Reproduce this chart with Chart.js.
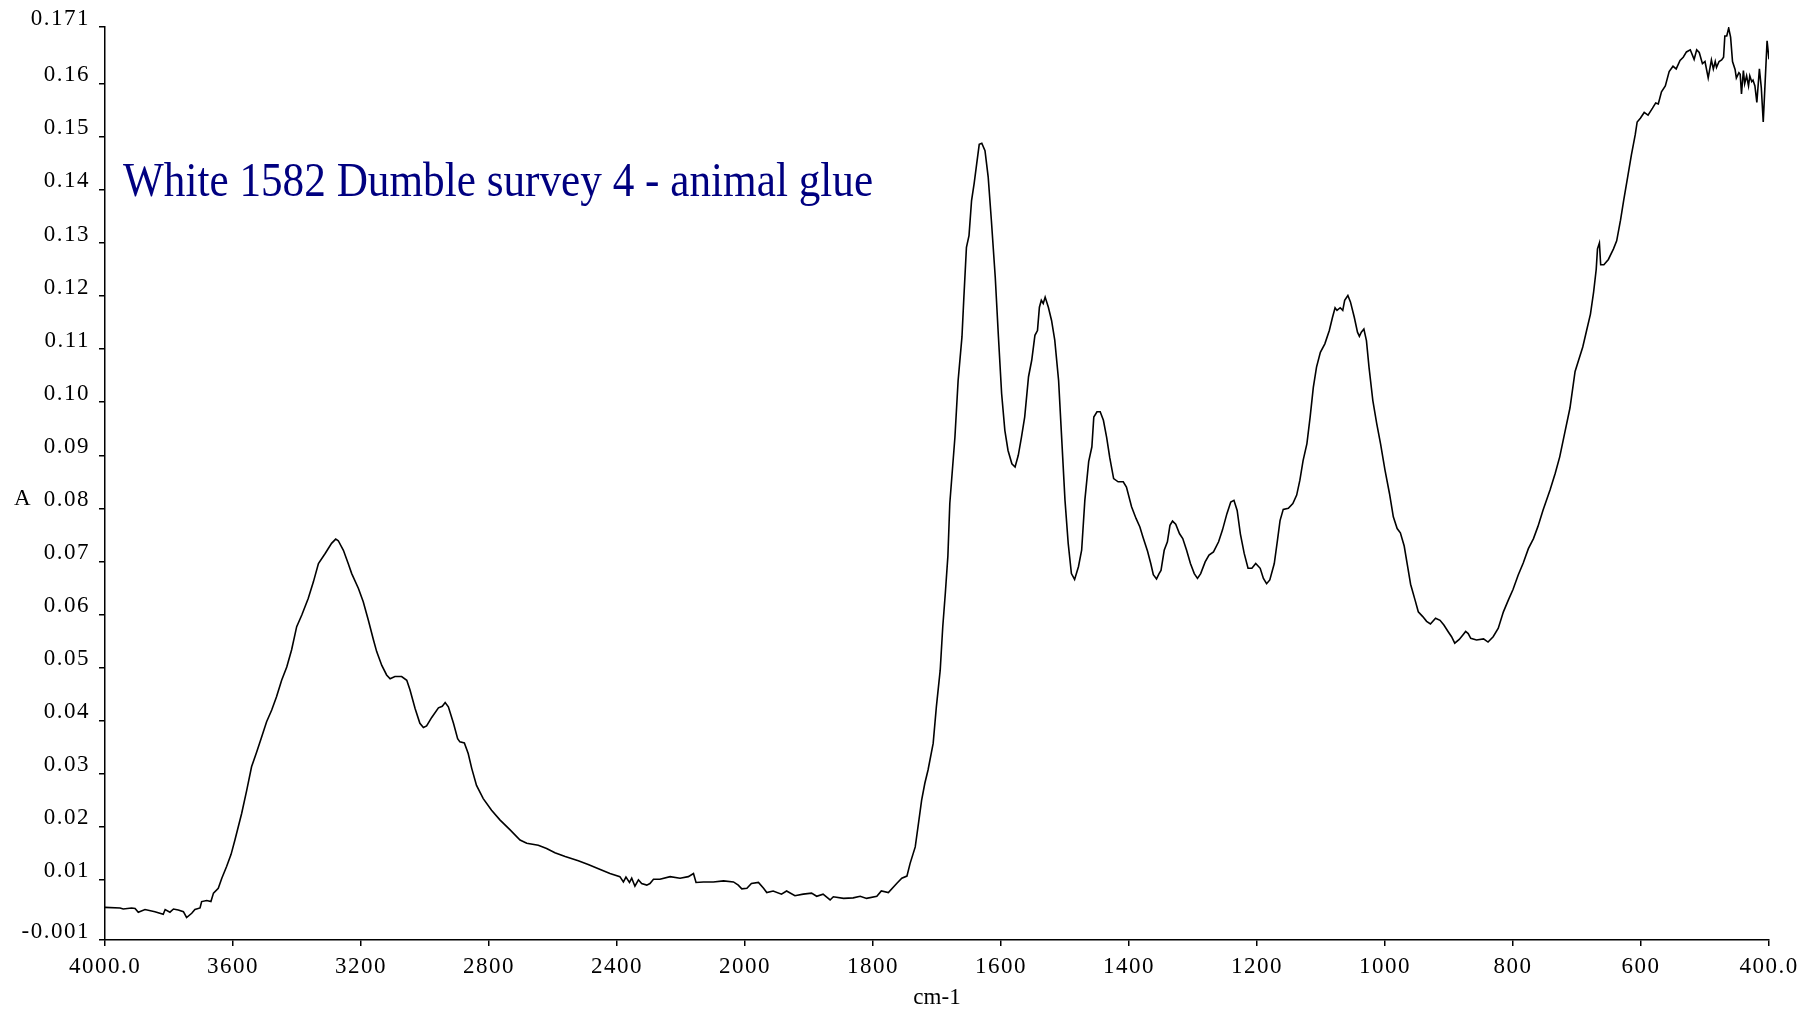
<!DOCTYPE html>
<html>
<head>
<meta charset="utf-8">
<title>White 1582 Dumble survey 4 - animal glue</title>
<script src="https://cdn.jsdelivr.net/npm/chart.js@4/dist/chart.umd.min.js"></script>
<style>
  html, body { margin: 0; padding: 0; background: #ffffff; }
  #wrap { position: relative; width: 1806px; height: 1016px; }
  canvas { display: block; }
</style>
</head>
<body>
<div id="wrap"><canvas id="spectrum"></canvas></div>
<script>
// ---- Text ----
const chartTitle = 'White 1582 Dumble survey 4 - animal glue';
const yAxisLabel = 'A';
const xAxisLabel = 'cm-1';

// ---- Spectrum (wavenumber in cm-1, absorbance) ----
const wavenumbers = [
  4000, 3953, 3943, 3917, 3906, 3896, 3875, 3844, 3818, 3812, 3797, 3786, 3771, 3755, 3745, 3729, 3719, 3703, 3698, 3682,
  3669, 3661, 3646, 3635, 3620, 3606, 3594, 3573, 3557, 3542, 3526, 3510, 3495, 3479, 3464, 3448, 3432, 3417, 3401, 3385,
  3365, 3349, 3333, 3312, 3292, 3279, 3271, 3255, 3240, 3229, 3208, 3193, 3177, 3161, 3151, 3135, 3120, 3109, 3094, 3073,
  3057, 3047, 3031, 3016, 3005, 2995, 2979, 2958, 2946, 2937, 2927, 2911, 2898, 2891, 2877, 2865, 2854, 2839, 2818, 2792,
  2766, 2734, 2703, 2682, 2646, 2620, 2594, 2562, 2521, 2490, 2458, 2422, 2391, 2380, 2372, 2361, 2354, 2344, 2333, 2323,
  2307, 2297, 2286, 2266, 2234, 2203, 2177, 2161, 2153, 2130, 2099, 2067, 2036, 2021, 2010, 1997, 1990, 1979, 1971, 1966,
  1956, 1943, 1935, 1922, 1909, 1896, 1888, 1878, 1867, 1862, 1846, 1831, 1820, 1810, 1794, 1787, 1776, 1763, 1755, 1747,
  1742, 1734, 1729, 1724, 1719, 1714, 1706, 1701, 1695, 1691, 1687, 1683, 1680, 1672, 1667, 1661, 1658, 1654, 1650, 1646,
  1642, 1638, 1634, 1630, 1625, 1620, 1615, 1609, 1604, 1599, 1594, 1589, 1583, 1578, 1573, 1568, 1563, 1557, 1552, 1547,
  1543, 1540, 1537, 1534, 1531, 1526, 1521, 1516, 1510, 1505, 1500, 1495, 1490, 1485, 1479, 1474, 1469, 1463, 1458, 1455,
  1450, 1445, 1440, 1435, 1430, 1424, 1417, 1409, 1404, 1396, 1389, 1383, 1378, 1371, 1366, 1362, 1357, 1353, 1350, 1345,
  1340, 1336, 1332, 1327, 1321, 1316, 1310, 1304, 1298, 1293, 1288, 1281, 1275, 1268, 1260, 1254, 1247, 1241, 1236, 1231,
  1226, 1220, 1214, 1208, 1202, 1195, 1190, 1185, 1180, 1173, 1168, 1164, 1159, 1151, 1144, 1138, 1133, 1128, 1122, 1117,
  1112, 1107, 1101, 1094, 1087, 1082, 1078, 1075, 1070, 1066, 1063, 1058, 1054, 1048, 1043, 1040, 1037, 1033, 1029, 1025,
  1019, 1013, 1007, 1000, 993, 987, 981, 976, 970, 965, 960, 953, 948, 941, 935, 929, 921, 914, 908, 901,
  896, 891, 884, 878, 874, 870, 866, 857, 846, 839, 831, 823, 815, 807, 800, 792, 784, 776, 768, 761,
  753, 742, 734, 727, 719, 711, 703, 698, 691, 685, 679, 674, 670, 668, 665, 663, 658, 651, 643, 638,
  632, 627, 621, 615, 609, 606, 601, 595, 589, 582, 577, 573, 568, 562, 556, 550, 545, 539, 534, 529,
  523, 517, 513, 509, 504, 500, 495, 490, 487, 484, 482, 478, 474, 471, 469, 466, 463, 460, 457, 453,
  451, 447, 445, 443, 440, 438, 435, 432, 430, 427, 425, 422, 419, 415, 412, 409, 406, 403, 400
];
const absorbance = [
  0.0048, 0.0047, 0.0045, 0.0047, 0.0046, 0.0039, 0.0044, 0.0040, 0.0035, 0.0044, 0.0039, 0.0045, 0.0043, 0.0040, 0.0029, 0.0037, 0.0044, 0.0047, 0.0059, 0.0061,
  0.0059, 0.0075, 0.0084, 0.0103, 0.0125, 0.0148, 0.0175, 0.0225, 0.0269, 0.0313, 0.0341, 0.0370, 0.0398, 0.0420, 0.0445, 0.0476, 0.0501, 0.0533, 0.0577, 0.0599,
  0.0630, 0.0661, 0.0696, 0.0715, 0.0734, 0.0742, 0.0739, 0.0721, 0.0696, 0.0677, 0.0649, 0.0624, 0.0589, 0.0552, 0.0530, 0.0504, 0.0486, 0.0479, 0.0483, 0.0483,
  0.0476, 0.0458, 0.0423, 0.0395, 0.0387, 0.0390, 0.0406, 0.0424, 0.0427, 0.0434, 0.0426, 0.0395, 0.0366, 0.0360, 0.0358, 0.0338, 0.0310, 0.0278, 0.0253, 0.0231,
  0.0213, 0.0194, 0.0175, 0.0169, 0.0165, 0.0159, 0.0151, 0.0144, 0.0136, 0.0129, 0.0121, 0.0112, 0.0106, 0.0096, 0.0105, 0.0095, 0.0103, 0.0088, 0.0100, 0.0093,
  0.0090, 0.0093, 0.0101, 0.0101, 0.0106, 0.0103, 0.0106, 0.0112, 0.0095, 0.0096, 0.0096, 0.0098, 0.0096, 0.0090, 0.0083, 0.0084, 0.0093, 0.0095, 0.0084, 0.0076,
  0.0079, 0.0073, 0.0079, 0.0070, 0.0073, 0.0075, 0.0069, 0.0073, 0.0062, 0.0068, 0.0065, 0.0066, 0.0069, 0.0065, 0.0069, 0.0079, 0.0076, 0.0093, 0.0103, 0.0107,
  0.0131, 0.0162, 0.0206, 0.0250, 0.0282, 0.0307, 0.0357, 0.0426, 0.0495, 0.0577, 0.0640, 0.0710, 0.0809, 0.0934, 0.1041, 0.1123, 0.1198, 0.1292, 0.1314, 0.1380,
  0.1412, 0.1449, 0.1486, 0.1488, 0.1474, 0.1424, 0.1342, 0.1236, 0.1123, 0.1016, 0.0947, 0.0909, 0.0884, 0.0878, 0.0900, 0.0934, 0.0972, 0.1048, 0.1079, 0.1126,
  0.1135, 0.1179, 0.1192, 0.1186, 0.1198, 0.1179, 0.1154, 0.1117, 0.1041, 0.0928, 0.0815, 0.0734, 0.0677, 0.0666, 0.0690, 0.0721, 0.0815, 0.0888, 0.0916, 0.0972,
  0.0982, 0.0982, 0.0966, 0.0934, 0.0895, 0.0856, 0.0850, 0.0850, 0.0840, 0.0803, 0.0781, 0.0765, 0.0745, 0.0719, 0.0696, 0.0675, 0.0667, 0.0677, 0.0683, 0.0721,
  0.0737, 0.0768, 0.0776, 0.0770, 0.0752, 0.0743, 0.0721, 0.0696, 0.0677, 0.0668, 0.0677, 0.0699, 0.0712, 0.0718, 0.0737, 0.0759, 0.0790, 0.0812, 0.0815, 0.0796,
  0.0752, 0.0715, 0.0687, 0.0687, 0.0696, 0.0687, 0.0668, 0.0658, 0.0665, 0.0696, 0.0740, 0.0777, 0.0798, 0.0800, 0.0809, 0.0825, 0.0853, 0.0890, 0.0922, 0.0972,
  0.1028, 0.1066, 0.1094, 0.1110, 0.1135, 0.1160, 0.1178, 0.1173, 0.1178, 0.1173, 0.1192, 0.1201, 0.1189, 0.1160, 0.1132, 0.1124, 0.1132, 0.1138, 0.1116, 0.1066,
  0.1003, 0.0960, 0.0922, 0.0872, 0.0828, 0.0784, 0.0762, 0.0754, 0.0729, 0.0693, 0.0657, 0.0627, 0.0605, 0.0596, 0.0587, 0.0582, 0.0593, 0.0589, 0.0580, 0.0567,
  0.0558, 0.0546, 0.0553, 0.0562, 0.0568, 0.0564, 0.0555, 0.0552, 0.0554, 0.0548, 0.0558, 0.0574, 0.0605, 0.0628, 0.0647, 0.0674, 0.0697, 0.0724, 0.0743, 0.0766,
  0.0797, 0.0835, 0.0866, 0.0897, 0.0943, 0.0989, 0.1058, 0.1077, 0.1104, 0.1135, 0.1166, 0.1208, 0.1250, 0.1289, 0.1300, 0.1259, 0.1259, 0.1269, 0.1289, 0.1304,
  0.1343, 0.1381, 0.1423, 0.1466, 0.1504, 0.1528, 0.1535, 0.1546, 0.1541, 0.1554, 0.1564, 0.1562, 0.1585, 0.1596, 0.1623, 0.1633, 0.1628, 0.1644, 0.1650, 0.1660,
  0.1664, 0.1646, 0.1664, 0.1659, 0.1638, 0.1642, 0.1611, 0.1645, 0.1628, 0.1642, 0.1631, 0.1642, 0.1645, 0.1650, 0.1690, 0.1690, 0.1705, 0.1688, 0.1642, 0.1627,
  0.1611, 0.1621, 0.1618, 0.1581, 0.1625, 0.1600, 0.1615, 0.1596, 0.1615, 0.1604, 0.1607, 0.1596, 0.1565, 0.1628, 0.1592, 0.1528, 0.1604, 0.1681, 0.1646
];

// ---- Axes ----
const xMax = 4000;
const xMin = 400;
const xBreak = 2000;          // below this wavenumber the axis runs at double scale
const xTickValues = [4000, 3600, 3200, 2800, 2400, 2000, 1800, 1600, 1400, 1200, 1000, 800, 600, 400];
const xTickLabels = ['4000.0', '3600', '3200', '2800', '2400', '2000', '1800', '1600', '1400', '1200', '1000', '800', '600', '400.0'];

const yMin = -0.00134;
const yMax = 0.1707;
const yTickValues = [yMin, 0.01, 0.02, 0.03, 0.04, 0.05, 0.06, 0.07, 0.08, 0.09, 0.10, 0.11, 0.12, 0.13, 0.14, 0.15, 0.16, yMax];
const yTickLabels = ['-0.001', '0.01', '0.02', '0.03', '0.04', '0.05', '0.06', '0.07', '0.08', '0.09', '0.10', '0.11', '0.12', '0.13', '0.14', '0.15', '0.16', '0.171'];

const serif = '"Liberation Serif", "Times New Roman", serif';

// Wavenumber axis: 4000-2000 at 400 cm-1 per division, 2000-400 at 200 cm-1 per division.
function wavenumberToDecimal(v) {
  const upper = (xMax - xBreak) / 400;
  const lower = (xBreak - xMin) / 200;
  const u = v >= xBreak ? (xMax - v) / 400 : upper + (xBreak - v) / 200;
  return u / (upper + lower);
}
function decimalToWavenumber(d) {
  const upper = (xMax - xBreak) / 400;
  const lower = (xBreak - xMin) / 200;
  const u = d * (upper + lower);
  return u <= upper ? xMax - u * 400 : xBreak - (u - upper) * 200;
}

class SplitWavenumberScale extends Chart.LinearScale {
  static id = 'splitWavenumber';
  static defaults = {};
  getPixelForValue(value) {
    if (value === null || value === undefined || isNaN(value)) return NaN;
    return this.getPixelForDecimal(wavenumberToDecimal(value));
  }
  getValueForPixel(pixel) {
    return decimalToWavenumber(this.getDecimalForPixel(pixel));
  }
}
Chart.register(SplitWavenumberScale);

// Title inside the plot, horizontal "A" unit label and the cm-1 caption
const spectrumText = {
  id: 'spectrumText',
  beforeDraw(chart) {
    chart.ctx.letterSpacing = '1.5px';
  },
  afterDraw(chart) {
    const { ctx, chartArea } = chart;
    ctx.save();
    ctx.letterSpacing = '0px';
    ctx.fillStyle = '#000080';
    ctx.font = '49px ' + serif;
    ctx.textAlign = 'left';
    ctx.textBaseline = 'alphabetic';
    ctx.translate(chartArea.left + 18, 196);
    ctx.scale(0.882, 1);
    ctx.fillText(chartTitle, 0, 0);
    ctx.restore();

    ctx.save();
    ctx.letterSpacing = '0px';
    ctx.fillStyle = '#000000';
    ctx.font = '23px ' + serif;
    ctx.textAlign = 'left';
    ctx.textBaseline = 'alphabetic';
    ctx.fillText(yAxisLabel, 14, 505);
    ctx.textAlign = 'center';
    ctx.fillText(xAxisLabel, (chartArea.left + chartArea.right) / 2, 1004);
    ctx.restore();
  }
};

const points = wavenumbers.map((w, i) => ({ x: w, y: absorbance[i] }));

new Chart(document.getElementById('spectrum'), {
  type: 'line',
  data: {
    datasets: [{
      data: points,
      borderColor: '#000000',
      borderWidth: 1.6,
      pointRadius: 0,
      tension: 0,
      fill: false
    }]
  },
  options: {
    responsive: true,
    maintainAspectRatio: false,
    animation: false,
    events: [],
    layout: { padding: { top: 27, right: 37, bottom: 0, left: 0 } },
    plugins: {
      legend: { display: false },
      title: { display: false },
      tooltip: { enabled: false }
    },
    scales: {
      x: {
        type: 'splitWavenumber',
        min: xMin,
        max: xMax,
        afterBuildTicks: (scale) => { scale.ticks = xTickValues.map(v => ({ value: v })); },
        afterFit: (scale) => { scale.height = 76; scale.paddingLeft = 0; scale.paddingRight = 0; },
        ticks: {
          autoSkip: false,
          maxRotation: 0,
          padding: 7,
          color: '#000000',
          font: { family: serif, size: 23 },
          callback: (value) => xTickLabels[xTickValues.indexOf(value)]
        },
        grid: { display: true, drawOnChartArea: false, drawTicks: true, tickLength: 6, color: '#000000', lineWidth: 1.5 },
        border: { display: true, color: '#000000', width: 1.5 },
        title: { display: false }
      },
      y: {
        type: 'linear',
        min: yMin,
        max: yMax,
        afterBuildTicks: (scale) => { scale.ticks = yTickValues.map(v => ({ value: v })); },
        afterFit: (scale) => { scale.width = 105; scale.paddingTop = 0; scale.paddingBottom = 0; },
        ticks: {
          autoSkip: false,
          padding: 9,
          labelOffset: -8.5,
          color: '#000000',
          font: { family: serif, size: 23 },
          callback: (value) => yTickLabels[yTickValues.indexOf(value)]
        },
        grid: { display: true, drawOnChartArea: false, drawTicks: true, tickLength: 6, color: '#000000', lineWidth: 1.5 },
        border: { display: true, color: '#000000', width: 1.5 },
        title: { display: false }
      }
    }
  },
  plugins: [spectrumText]
});
</script>
</body>
</html>
